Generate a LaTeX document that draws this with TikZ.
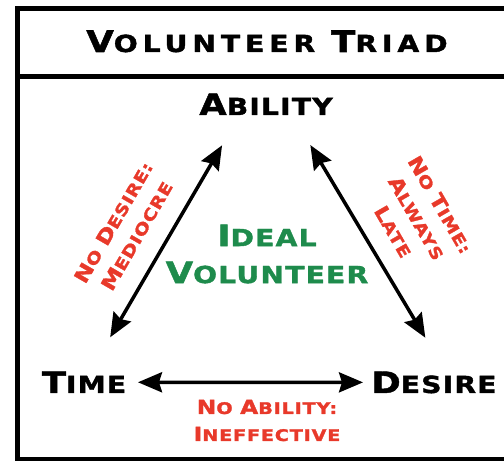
\documentclass[tikz,border=0pt]{standalone}
\usepackage{fontspec}
\newfontfamily\cpfont[FakeStretch=1.2,LetterSpace=5,FakeBold=1.6]{DejaVu Sans Bold}
\newfontfamily\cptitle[FakeStretch=1.2,LetterSpace=21,FakeBold=1.8]{DejaVu Sans Bold}
\usetikzlibrary{arrows.meta,positioning}
\definecolor{lackred}{HTML}{E8392A}
\definecolor{idealgreen}{HTML}{1E8B4C}
% first letter large, the rest as small capitals
\newcommand{\bigcp}[2]{{\fontsize{29.5}{32}\selectfont #1}{\fontsize{23.5}{26}\selectfont #2}}
\newcommand{\smallcp}[2]{{\fontsize{19.5}{22}\selectfont #1}{\fontsize{16}{18}\selectfont #2}}

\begin{document}
\begin{tikzpicture}[x=1pt,y=1pt,
word/.style = {font=\cpfont\fontsize{23.5}{37}\selectfont, inner sep=2pt, align=center},
lack/.style = {font=\cpfont\fontsize{16}{27}\selectfont, text=lackred, inner sep=2pt, align=center},
link/.style = {draw, line width=3.5pt, {Stealth[length=24pt,width=20pt,inset=3pt]}-{Stealth[length=24pt,width=20pt,inset=3pt]}}]

\useasboundingbox (0,0) rectangle (504,461);
\clip (0,0) rectangle (504,461);

% frame and title bar
\draw[line width=5pt] (17.5,1.5) rectangle (540,452.5);
\draw[line width=5pt] (17.5,384.5) -- (540,384.5);

\node [word, font=\cptitle, anchor=base] (title) at (267,409) {\bigcp{V}{OLUNTEER}\hspace*{16pt}\bigcp{T}{RIAD}};

\node [word, anchor=base] (ability) at (266,346) {\bigcp{A}{BILITY}};
\node [word, anchor=base] (time) at (84,68) {\bigcp{T}{IME}};
\node [word, anchor=base] (desire) at (434,68) {\bigcp{D}{ESIRE}};

\node [word, text=idealgreen] (ideal) at (267,207) {\bigcp{I}{DEAL}\\\bigcp{V}{OLUNTEER}};

\node [lack, rotate=60] (nodesire) at (125,232) {\smallcp{N}{O} \smallcp{D}{ESIRE:}\\\smallcp{M}{EDIOCRE}};
\node [lack, rotate=-60] (notime) at (417,243) {\smallcp{N}{O} \smallcp{T}{IME:}\\\smallcp{A}{LWAYS}\\\smallcp{L}{ATE}};
\node [lack] (noability) at (267,40.5) {\smallcp{N}{O} \smallcp{A}{BILITY:}\\\smallcp{I}{NEFFECTIVE}};

\begin{scope}[every path/.style=link]
\path [shorten <=47.5pt, shorten >=52pt] ([xshift=-20pt]ability.center) -- (time.center);
\path [shorten <=47.5pt, shorten >=52pt] ([xshift=20pt]ability.center) -- ([xshift=18pt]desire.center);
\path [shorten <=54pt, shorten >=71pt] (time.center) -- (desire.center);
\end{scope}

\end{tikzpicture}
\end{document}
